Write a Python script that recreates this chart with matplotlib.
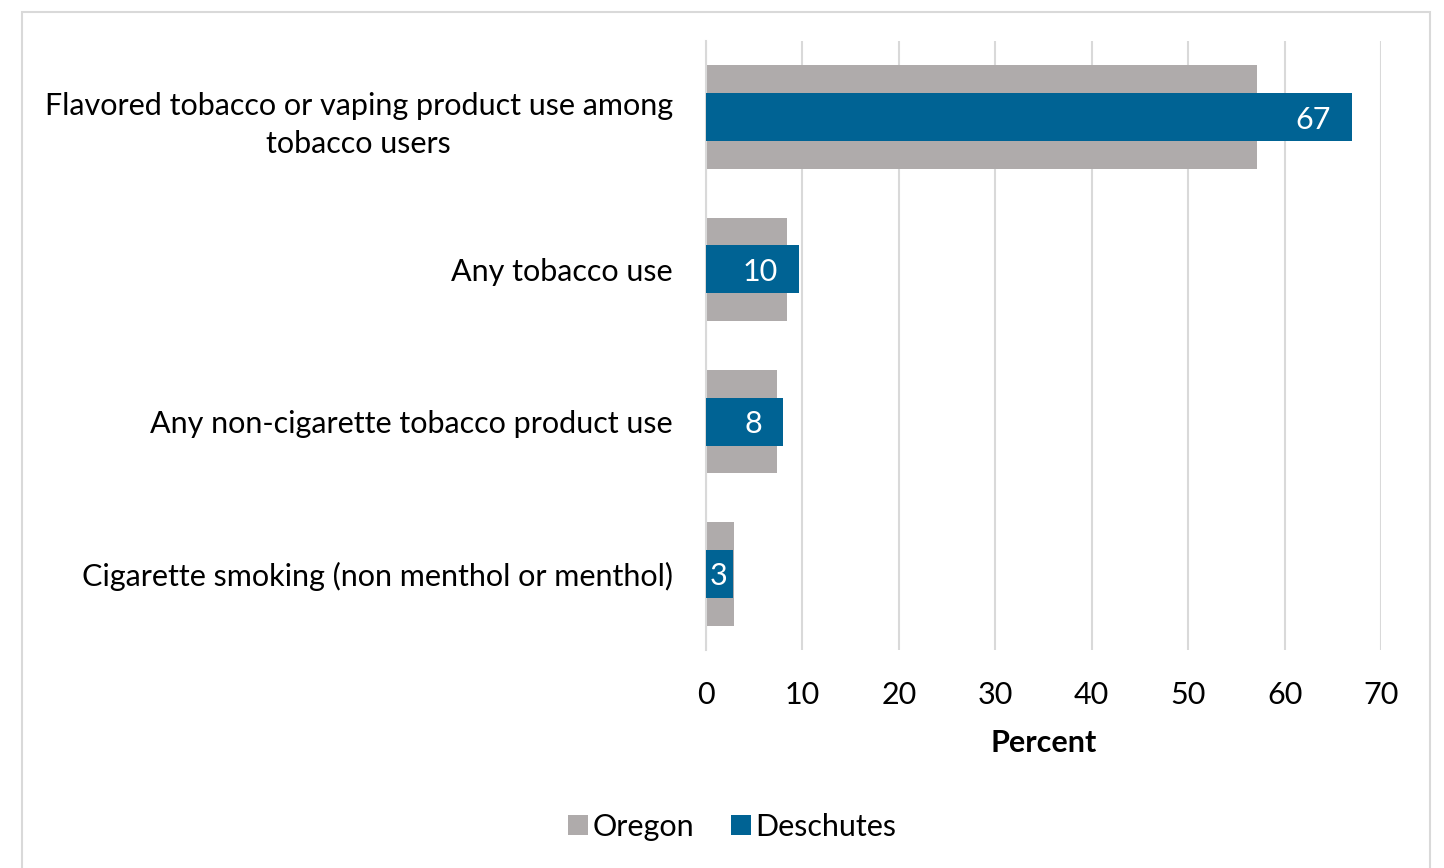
import matplotlib
matplotlib.use("Agg")
import matplotlib.pyplot as plt
from matplotlib.patches import Rectangle
import numpy as np

categories = [
    "Flavored tobacco or vaping product use among\ntobacco users",
    "Any tobacco use",
    "Any non-cigarette tobacco product use",
    "Cigarette smoking (non menthol or menthol)",
]
oregon = [57.1, 8.4, 7.4, 2.9]
deschutes = [67.0, 9.6, 8.0, 2.8]
deschutes_labels = ["67", "10", "8", "3"]
xticks = [0, 10, 20, 30, 40, 50, 60, 70]

GRAY = "#AFABAB"
BLUE = "#006394"
FONT = "Lato"
FS = 22

plt.rcParams['font.family'] = [FONT, 'DejaVu Sans']

W, H = 1444, 868
fig = plt.figure(figsize=(W / 100, H / 100), dpi=100)
fig.patches.append(Rectangle((22 / W, -0.05), (1430 - 22) / W, 1.05 - 12 / H,
                             transform=fig.transFigure, fill=False,
                             edgecolor="#D9D9D9", linewidth=1.5))

ax = fig.add_axes([706 / W, 1 - 650 / H, (1381 - 706) / W, (650 - 41) / H])
y = np.arange(len(categories))
ax.barh(y, oregon, height=0.68, color=GRAY, label="Oregon", zorder=2)
bars = ax.barh(y, deschutes, height=0.315, color=BLUE, label="Deschutes", zorder=3)

for b, lab, v in zip(bars, deschutes_labels, deschutes):
    pad = -15 if v > 5 else -4
    ax.annotate(lab, xy=(v, b.get_y() + b.get_height() / 2), xytext=(pad, 0),
                textcoords="offset points", ha="right", va="center_baseline",
                color="white", fontsize=FS, zorder=4)

ax.set_xlim(0, 70)
ax.set_ylim(len(categories) - 0.5, -0.5)
ax.set_xticks(xticks)
ax.set_xticklabels([str(t) for t in xticks], fontsize=FS)
ax.set_yticks(y)
ax.set_yticklabels(categories, fontsize=FS, multialignment="center", linespacing=1.45)
ax.tick_params(axis="y", length=0, pad=24)
ax.tick_params(axis="x", length=0, pad=22)
ax.grid(axis="x", color="#D9D9D9", linewidth=1.5, zorder=0)
ax.set_axisbelow(True)
for s in ["top", "right", "bottom"]:
    ax.spines[s].set_visible(False)
ax.spines["left"].set_color("#D9D9D9")
ax.spines["left"].set_linewidth(1.5)
ax.set_xlabel("Percent", fontsize=FS, fontweight="bold", labelpad=15)

handles, labels = ax.get_legend_handles_labels()
fig.legend(handles, labels, loc="center", bbox_to_anchor=(732 / W, 1 - 827 / H),
           ncol=2, frameon=False, fontsize=FS, handlelength=0.65, handleheight=0.65,
           handletextpad=0.15, columnspacing=1.2)

fig.savefig("out.png", dpi=100)
